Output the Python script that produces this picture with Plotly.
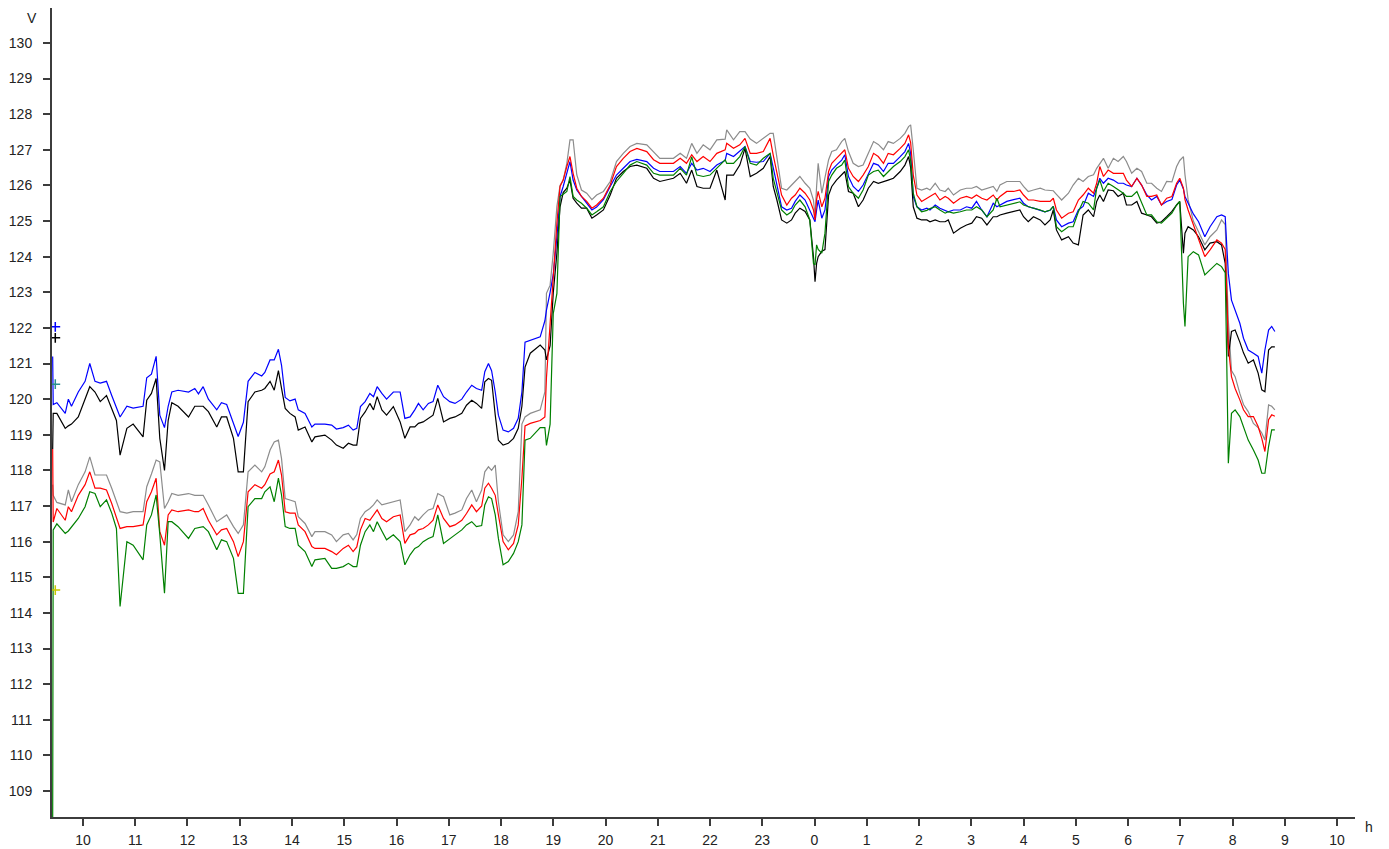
import plotly.graph_objects as go

# ---- time axis (hours, continuous: 24 = midnight, 34 = 10 next day) ----
HOURS = [
    9.42, 9.43, 9.50, 9.66, 9.72, 9.78, 9.91, 10.04, 10.13, 10.23, 10.33, 10.45, 10.55, 10.64, 10.71, 10.84,
    10.96, 11.15, 11.22, 11.31, 11.40, 11.47, 11.56, 11.63, 11.70, 11.82, 12.02, 12.14, 12.21, 12.30,
    12.40, 12.56, 12.65, 12.75, 12.88, 12.97, 13.07, 13.16, 13.29, 13.42, 13.48, 13.58, 13.66, 13.74,
    13.80, 13.87, 13.96, 14.06,
    14.12, 14.25, 14.38, 14.44, 14.63, 14.76, 14.85, 14.98, 15.08, 15.17, 15.24, 15.31, 15.40, 15.49,
    15.56, 15.63, 15.72, 15.81, 15.94, 16.07, 16.16, 16.26, 16.35, 16.42, 16.51, 16.61, 16.70, 16.79,
    16.90, 17.02, 17.12, 17.25, 17.34, 17.44, 17.53, 17.63, 17.69, 17.76, 17.82, 17.89, 17.95, 18.04,
    18.14, 18.24, 18.33, 18.40,
    18.46, 18.56, 18.75, 18.84, 18.87, 18.94, 19.00, 19.07, 19.13, 19.19, 19.26, 19.32, 19.38, 19.45,
    19.54, 19.64, 19.74, 19.83, 19.96, 20.09, 20.21, 20.34, 20.47, 20.60, 20.79, 20.92, 21.04, 21.30,
    21.43, 21.55, 21.65, 21.75, 21.87, 22.00, 22.13, 22.29, 22.32, 22.45, 22.57, 22.67, 22.77, 22.89,
    23.02, 23.15, 23.21, 23.28, 23.37, 23.47, 23.56,
    23.63, 23.72, 23.82, 23.91, 23.98, 24.01, 24.04, 24.07, 24.14, 24.20, 24.27, 24.33, 24.42, 24.52,
    24.58, 24.65, 24.74, 24.84, 24.93, 25.03, 25.13, 25.22, 25.32, 25.41, 25.51, 25.64, 25.73, 25.80,
    25.84, 25.89, 25.96, 26.05, 26.15, 26.21, 26.31, 26.40, 26.50, 26.56, 26.66, 26.79, 26.91, 27.01,
    27.10, 27.20, 27.30, 27.42, 27.49, 27.55, 27.68, 27.81, 27.93, 28.00, 28.09, 28.19, 28.32,
    28.41, 28.51, 28.57, 28.63, 28.73, 28.86, 28.95, 29.05, 29.14, 29.24, 29.34, 29.40, 29.46, 29.53,
    29.62, 29.72, 29.81, 29.91, 29.97, 30.07, 30.17, 30.26, 30.36, 30.45, 30.55, 30.64, 30.74, 30.84,
    30.93, 30.99, 31.06, 31.09, 31.15, 31.25, 31.35, 31.47, 31.57, 31.70, 31.79, 31.86, 31.89, 31.92,
    31.98, 32.05, 32.14, 32.21, 32.30, 32.40, 32.49, 32.56, 32.62, 32.69, 32.75, 32.81,
]

BLUE = [
    121.2, 119.85, 119.9, 119.6, 120.0, 119.8, 120.2, 120.5, 121.0, 120.5, 120.45, 120.5, 120.1, 119.75, 119.5, 119.8,
    119.75, 119.8, 120.6, 120.7, 121.2, 119.55, 119.2, 119.8, 120.2, 120.25, 120.2, 120.3, 120.15, 120.35,
    120.0, 119.7, 119.9, 119.85, 119.35, 118.95, 119.35, 120.5, 120.75, 120.65, 120.75, 121.1, 121.1, 121.4,
    120.95, 120.05, 119.95, 120.0,
    119.7, 119.6, 119.22, 119.3, 119.3, 119.27, 119.16, 119.2, 119.27, 119.13, 119.18, 119.79, 119.93, 120.16,
    120.07, 120.35, 120.16, 120.0, 120.2, 120.2, 119.46, 119.5, 119.7, 119.88, 119.7, 119.88, 119.93, 120.39,
    120.07, 119.93, 119.88, 120.0, 120.2, 120.39, 120.3, 120.25, 120.77, 121.0, 120.8, 120.2, 119.55, 119.13,
    119.08, 119.18, 119.46, 120.2,
    121.6, 121.65, 121.75, 122.2, 122.5, 123.0, 123.5, 124.56, 125.69, 125.97, 126.34, 126.67, 126.15, 125.87,
    125.69, 125.5, 125.31, 125.39, 125.6, 125.97, 126.29, 126.48, 126.67, 126.73, 126.67, 126.48, 126.39, 126.39,
    126.53, 126.34, 126.62, 126.43, 126.48, 126.39, 126.57, 126.7, 126.9, 126.81, 126.95, 127.09, 126.67, 126.65,
    126.67, 126.9, 126.5, 125.97, 125.4, 125.31, 125.36,
    125.55, 125.73, 125.59, 125.31, 125.12, 124.98, 125.31, 125.59, 125.08, 125.31, 126.25, 126.43, 126.57, 126.71,
    126.86, 126.25, 125.97, 125.83, 126.01, 126.34, 126.62, 126.57, 126.39, 126.62, 126.62, 126.81, 126.95, 127.18,
    126.9, 125.69, 125.4, 125.31, 125.36, 125.31, 125.45, 125.36, 125.31, 125.26, 125.31, 125.31, 125.4, 125.36,
    125.55, 125.31, 125.12, 125.5, 125.4, 125.45, 125.55, 125.6, 125.64, 125.5, 125.4, 125.36, 125.31,
    125.26, 125.3, 125.41, 125.03, 124.84, 124.94, 124.98, 125.31, 125.41, 125.78, 125.69, 125.92, 126.2, 126.06,
    126.2, 126.15, 126.06, 126.06, 126.01, 125.97, 126.2, 126.01, 125.73, 125.59, 125.69, 125.45, 125.55, 125.6,
    126.01, 126.15, 125.9, 125.69, 125.5, 125.2, 124.98, 124.56, 124.84, 125.12, 125.17, 125.12, 124.3, 123.53,
    122.78, 122.5, 122.13, 121.71, 121.38, 121.29, 121.2, 120.73, 121.38, 121.94, 122.04, 121.9,
]

BLACK = [
    118.6, 119.6, 119.6, 119.18, 119.25, 119.3, 119.5, 119.97, 120.35, 120.2, 119.93, 120.1, 119.7, 119.4, 118.43, 119.18,
    119.3, 118.94, 119.97, 120.16, 120.58, 118.9, 118.0, 119.4, 119.9, 119.8, 119.5, 119.8, 119.8, 119.8,
    119.65, 119.22, 119.5, 119.5, 118.9, 117.96, 117.96, 119.93, 120.2, 120.25, 120.3, 120.5, 120.25, 120.8,
    120.3, 119.74, 119.6, 119.5,
    119.13, 119.22, 118.8, 118.94, 118.99, 118.85, 118.71, 118.62, 118.76, 118.71, 118.71, 119.46, 119.64, 119.88,
    119.7, 120.07, 119.7, 119.55, 119.79, 119.36, 118.9, 119.22, 119.22, 119.32, 119.36, 119.46, 119.55, 120.02,
    119.36, 119.46, 119.5, 119.6, 119.83, 119.97, 119.88, 119.74, 120.49, 120.58, 120.53, 119.55, 118.85, 118.71,
    118.76, 118.9, 119.18, 119.8,
    120.9, 121.29, 121.52, 121.38, 121.1, 121.5, 122.98, 124.1, 125.4, 125.8, 125.92, 126.15, 125.64, 125.5,
    125.36, 125.36, 125.08, 125.17, 125.31, 125.73, 126.2, 126.39, 126.53, 126.57, 126.48, 126.2, 126.11, 126.2,
    126.34, 126.06, 126.43, 125.97, 125.92, 125.92, 126.43, 125.59, 126.29, 126.29, 126.57, 127.04, 126.25, 126.34,
    126.48, 126.81, 125.97, 125.59, 125.03, 124.94, 125.03,
    125.22, 125.36, 125.27, 125.03, 124.0, 123.3, 123.81, 124.0, 124.15, 124.2, 125.73, 125.97, 126.15, 126.29,
    126.39, 125.83, 125.78, 125.4, 125.59, 125.92, 126.11, 126.06, 126.1, 126.15, 126.2, 126.39, 126.57, 126.81,
    126.5, 125.4, 125.08, 125.03, 125.03, 124.98, 125.03, 124.98, 124.98, 125.03, 124.66, 124.8, 124.89, 124.94,
    125.12, 125.08, 124.89, 125.12, 125.12, 125.17, 125.22, 125.27, 125.31, 125.12, 124.98, 125.12, 125.03,
    124.89, 125.03, 125.31, 124.75, 124.47, 124.56, 124.38, 124.33, 125.17, 125.31, 125.12, 125.55, 125.73, 125.55,
    125.87, 125.85, 125.69, 125.78, 125.45, 125.45, 125.55, 125.22, 125.17, 125.12, 124.94, 124.98, 125.12, 125.27,
    125.45, 125.55, 124.1, 124.66, 124.84, 124.75, 124.56, 124.19, 124.38, 124.42, 124.33, 123.81, 122.69, 121.2,
    121.9, 121.94, 121.6, 121.3, 121.01, 121.1, 120.73, 120.26, 120.21, 121.38, 121.47, 121.47,
]

GRAY = [
    117.6, 117.3, 117.1, 117.03, 117.45, 117.12, 117.6, 117.96, 118.38, 117.87, 117.87, 117.87, 117.5, 117.1, 116.84, 116.8,
    116.84, 116.84, 117.54, 117.9, 118.29, 118.24, 116.93, 117.12, 117.35, 117.3, 117.35, 117.3, 117.3, 117.3,
    117.03, 116.56, 116.65, 116.75, 116.42, 116.23, 116.47, 117.96, 118.15, 117.96, 118.1, 118.57, 118.8, 118.85,
    118.33, 117.21, 117.17, 117.12,
    116.7, 116.51, 116.14, 116.28, 116.28, 116.19, 116.0, 116.19, 116.23, 116.05, 116.2, 116.65, 116.84, 116.93,
    117.03, 117.17, 117.03, 117.07, 117.12, 117.17, 116.28, 116.47, 116.7, 116.6, 116.75, 116.89, 116.93, 117.35,
    117.26, 116.75, 116.8, 116.89, 117.21, 117.45, 117.12, 117.45, 117.96, 118.1, 118.0, 118.15, 117.12, 116.19,
    116.0, 116.19, 116.84, 119.3,
    119.5, 119.6, 119.7, 120.2, 122.97, 123.2, 124.1, 125.41, 126.0, 126.15, 126.62, 127.28, 127.28, 126.3,
    125.87, 125.78, 125.6, 125.73, 125.83, 126.11, 126.67, 126.9, 127.09, 127.18, 127.14, 126.95, 126.76, 126.76,
    126.9, 126.76, 127.18, 126.9, 127.14, 127.0, 127.28, 127.3, 127.56, 127.28, 127.51, 127.51, 127.3, 127.18,
    127.32, 127.46, 127.46, 126.8, 125.92, 125.87, 126.01,
    126.11, 126.25, 126.06, 125.92, 125.59, 125.12, 125.97, 126.62, 125.78, 126.2, 126.72, 126.95, 127.0, 127.23,
    127.32, 126.95, 126.62, 126.53, 126.57, 126.9, 127.23, 127.15, 127.0, 127.23, 127.18, 127.32, 127.46, 127.65,
    127.7, 127.0, 125.92, 125.87, 125.92, 125.87, 126.06, 125.87, 125.83, 125.92, 125.73, 125.87, 125.92, 125.92,
    125.97, 125.87, 125.92, 125.97, 125.83, 126.01, 126.11, 126.11, 126.11, 125.97, 125.83, 125.87, 125.92,
    125.87, 125.85, 125.85, 125.75, 125.59, 125.78, 126.01, 126.2, 126.11, 126.25, 126.3, 126.48, 126.62, 126.76,
    126.48, 126.76, 126.67, 126.81, 126.67, 126.34, 126.48, 126.39, 126.06, 126.06, 125.92, 125.83, 126.11, 126.1,
    126.53, 126.7, 126.81, 126.3, 125.6, 125.0, 124.7, 124.33, 124.56, 124.75, 125.03, 124.9, 123.5, 122.2,
    120.8, 120.63, 120.16, 119.85, 119.65, 119.32, 119.2, 119.05, 118.85, 119.84, 119.8, 119.7,
]

RED = [
    118.6, 116.55, 116.93, 116.6, 116.98, 116.84, 117.3, 117.6, 117.96, 117.5, 117.5, 117.45, 117.07, 116.7, 116.37, 116.42,
    116.42, 116.47, 117.12, 117.4, 117.78, 116.28, 115.9, 116.75, 116.89, 116.84, 116.89, 116.84, 116.84, 116.93,
    116.6, 116.19, 116.33, 116.37, 116.0, 115.58, 116.0, 117.4, 117.6, 117.5, 117.6, 117.9, 117.96, 118.29,
    117.87, 116.84, 116.8, 116.8,
    116.47, 116.28, 115.86, 115.81, 115.81, 115.72, 115.63, 115.81, 115.9, 115.72, 115.85, 116.33, 116.65, 116.6,
    116.75, 116.89, 116.65, 116.56, 116.7, 116.75, 115.95, 116.19, 116.23, 116.33, 116.37, 116.47, 116.6, 117.03,
    116.65, 116.42, 116.47, 116.6, 116.79, 117.03, 116.84, 117.0, 117.5, 117.64, 117.5, 117.3, 116.75, 116.0,
    115.77, 115.95, 116.47, 117.78,
    119.25, 119.32, 119.4, 119.5, 120.6, 122.2, 123.35, 124.94, 125.97, 126.15, 126.53, 126.81, 126.34, 125.92,
    125.69, 125.55, 125.36, 125.45, 125.64, 126.01, 126.53, 126.76, 126.95, 127.04, 126.95, 126.72, 126.62, 126.62,
    126.76, 126.62, 126.86, 126.67, 126.81, 126.67, 126.9, 127.0, 127.18, 127.04, 127.14, 127.32, 126.9, 126.9,
    126.95, 127.32, 126.85, 126.34, 125.73, 125.45, 125.64,
    125.73, 125.92, 125.78, 125.59, 125.31, 125.03, 125.6, 125.83, 125.4, 125.64, 126.39, 126.62, 126.76, 126.9,
    127.0, 126.48, 126.25, 126.11, 126.29, 126.53, 126.9, 126.81, 126.62, 126.9, 126.86, 127.04, 127.18, 127.42,
    127.2, 126.29, 125.73, 125.55, 125.64, 125.69, 125.78, 125.59, 125.69, 125.64, 125.5, 125.64, 125.69, 125.64,
    125.73, 125.64, 125.59, 125.73, 125.59, 125.69, 125.83, 125.83, 125.87, 125.73, 125.59, 125.59, 125.55,
    125.55, 125.55, 125.64, 125.31, 125.08, 125.22, 125.26, 125.59, 125.73, 125.92, 125.78, 126.06, 126.53, 126.25,
    126.43, 126.34, 126.34, 126.34, 126.15, 125.97, 126.2, 126.01, 125.69, 125.69, 125.73, 125.45, 125.64, 125.69,
    126.06, 126.2, 125.92, 125.6, 125.31, 124.9, 124.55, 124.0, 124.19, 124.47, 124.38, 124.2, 123.0, 121.47,
    120.63, 120.3, 119.98, 119.7, 119.51, 119.51, 119.23, 118.9, 118.53, 119.42, 119.56, 119.52,
]

GREEN = [
    108.0, 116.33, 116.5, 116.23, 116.3, 116.42, 116.65, 116.98, 117.4, 117.35, 116.98, 117.17, 116.8, 116.37, 114.18, 116.0,
    115.9, 115.49, 116.47, 116.75, 117.31, 116.2, 114.55, 116.56, 116.56, 116.42, 116.09, 116.37, 116.4, 116.42,
    116.28, 115.77, 116.05, 116.0, 115.53, 114.55, 114.55, 116.98, 117.21, 117.21, 117.4, 117.54, 117.12, 117.78,
    117.31, 116.42, 116.37, 116.37,
    115.9, 115.72, 115.3, 115.49, 115.53, 115.25, 115.25, 115.3, 115.39, 115.3, 115.3, 115.9, 116.28, 116.47,
    116.28, 116.56, 116.3, 116.05, 116.19, 116.0, 115.35, 115.63, 115.81, 115.86, 116.0, 116.09, 116.14, 116.75,
    115.95, 116.09, 116.19, 116.33, 116.47, 116.56, 116.42, 116.45, 117.03, 117.26, 117.21, 116.75, 116.09, 115.35,
    115.44, 115.67, 116.0, 116.47,
    118.85, 118.9, 119.2, 119.2, 118.7, 119.3, 122.4, 122.97, 125.69, 125.75, 125.83, 126.25, 125.69, 125.59,
    125.5, 125.36, 125.17, 125.26, 125.4, 125.83, 126.11, 126.34, 126.57, 126.67, 126.57, 126.34, 126.29, 126.29,
    126.48, 126.29, 126.8, 126.29, 126.25, 126.29, 126.48, 126.72, 126.62, 126.62, 126.81, 127.09, 126.62, 126.57,
    126.76, 126.9, 126.2, 125.78, 125.31, 125.17, 125.26,
    125.45, 125.59, 125.4, 125.03, 123.81, 123.77, 124.33, 124.2, 124.1, 124.66, 126.11, 126.29, 126.48, 126.57,
    126.71, 125.97, 125.78, 125.64, 125.87, 126.29, 126.39, 126.43, 126.25, 126.39, 126.53, 126.67, 126.81, 127.0,
    126.7, 125.78, 125.4, 125.26, 125.3, 125.35, 125.4, 125.31, 125.22, 125.26, 125.22, 125.26, 125.31, 125.31,
    125.4, 125.31, 125.12, 125.31, 125.64, 125.4, 125.45, 125.5, 125.54, 125.45, 125.4, 125.36, 125.31,
    125.26, 125.31, 125.41, 124.84, 124.7, 124.84, 124.84, 125.26, 125.55, 125.5, 125.31, 125.92, 126.15, 125.83,
    126.06, 125.97, 125.88, 125.78, 125.69, 125.69, 125.83, 125.5, 125.17, 125.17, 124.98, 124.94, 125.08, 125.22,
    125.45, 125.55, 122.69, 122.04, 124.0, 124.14, 124.05, 123.49, 123.63, 123.81, 123.72, 123.55, 121.01, 118.2,
    119.6, 119.7, 119.51, 119.23, 118.85, 118.57, 118.29, 117.92, 117.92, 118.67, 119.14, 119.14,
]

# start-of-record markers at the left edge
MARK_X = [9.47, 9.47, 9.47, 9.47]
MARK_Y = [122.03, 121.72, 120.42, 114.64]
MARK_COLORS = ["#0000ff", "#000000", "#2a8f8f", "#c8c800"]

X_TICKS = list(range(10, 35))
X_TICK_TEXT = [str(h % 24) for h in X_TICKS]
Y_TICKS = list(range(109, 131))

SERIES = [
    ("gray", GRAY, "#8c8c8c"),
    ("blue", BLUE, "#0000ff"),
    ("black", BLACK, "#000000"),
    ("red", RED, "#ff0000"),
    ("green", GREEN, "#008000"),
]

for name, vals, _ in SERIES:
    assert len(vals) == len(HOURS), (name, len(vals), len(HOURS))

fig = go.Figure()
for name, vals, color in SERIES:
    fig.add_trace(go.Scatter(
        x=HOURS, y=vals, mode="lines", name=name,
        line=dict(color=color, width=1.2), hoverinfo="skip",
    ))

fig.add_trace(go.Scatter(
    x=MARK_X, y=MARK_Y, mode="markers",
    marker=dict(symbol="cross-thin", size=7, color=MARK_COLORS,
                line=dict(color=MARK_COLORS, width=1.5)),
    hoverinfo="skip", cliponaxis=False,
))

axis_font = dict(family="Liberation Sans, Arial, sans-serif", size=14, color="#222222")

fig.update_layout(
    width=1389, height=849,
    margin=dict(l=52, r=34, t=8, b=32, autoexpand=False),
    paper_bgcolor="white", plot_bgcolor="white",
    showlegend=False,
    xaxis=dict(
        range=[9.407, 34.344], tickmode="array", tickvals=X_TICKS, ticktext=X_TICK_TEXT,
        showgrid=False, zeroline=False, showline=True, linecolor="#3c3c3c", linewidth=2,
        ticks="outside", ticklen=7, tickwidth=1.5, tickcolor="#3c3c3c",
        tickfont=axis_font, ticklabelstandoff=2, fixedrange=True, automargin=False,
    ),
    yaxis=dict(
        range=[108.27, 130.98], tickmode="array", tickvals=Y_TICKS,
        showgrid=False, zeroline=False, showline=True, linecolor="#3c3c3c", linewidth=2,
        ticks="outside", ticklen=7, tickwidth=1.5, tickcolor="#3c3c3c",
        tickfont=axis_font, ticklabelstandoff=8, fixedrange=True, automargin=False,
    ),
    annotations=[
        dict(text="V", xref="paper", yref="paper", x=-0.015, y=0.988,
             xanchor="center", yanchor="middle", showarrow=False, font=axis_font),
        dict(text="h", xref="paper", yref="paper", x=1.0107, y=-0.0124,
             xanchor="center", yanchor="middle", showarrow=False, font=axis_font),
    ],
)

fig.write_html("out.html")
